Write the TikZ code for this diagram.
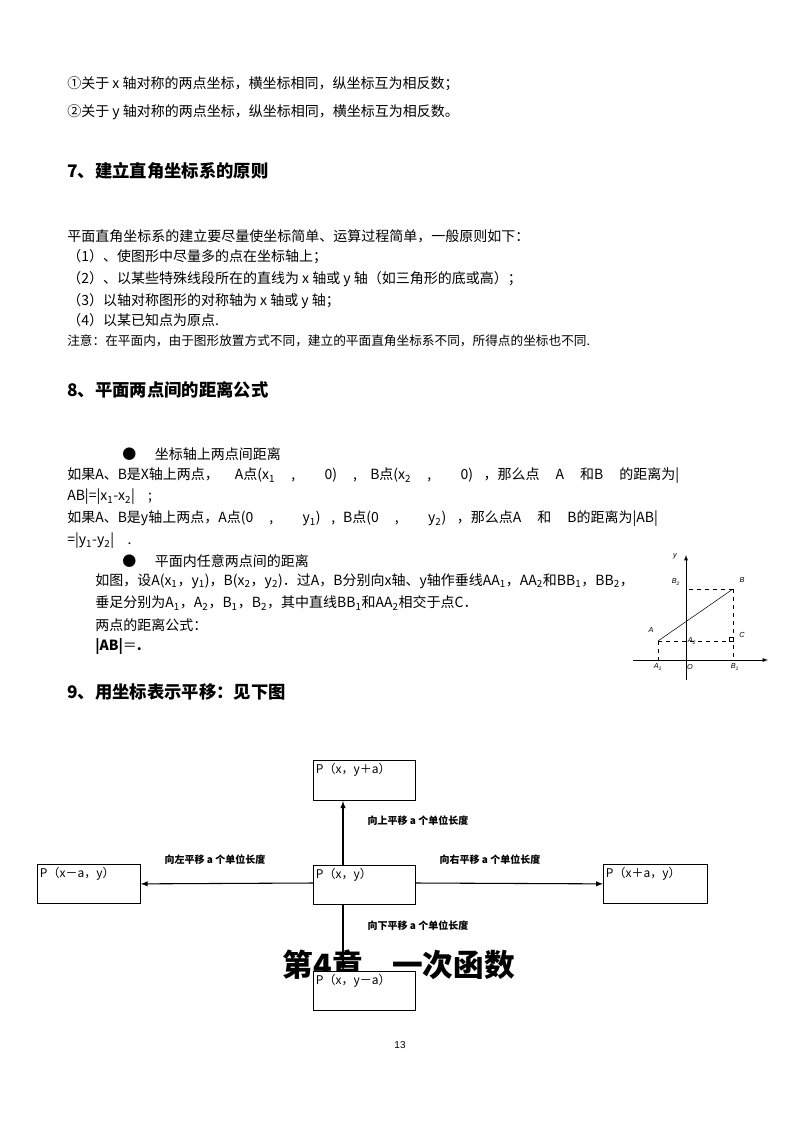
\documentclass[tikz,border=0pt]{standalone}
\usepackage{fontspec}
\setmainfont{Liberation Sans}
\newfontfamily\cjk{Noto Sans CJK SC}
\begin{document}
\begin{tikzpicture}[x=0.75pt,y=-0.75pt,
  txt/.style={anchor=west,inner sep=0,font=\cjk\fontsize{10.5}{12}\selectfont},
  hd/.style={anchor=west,inner sep=0,font=\cjk\bfseries\fontsize{13}{15}\selectfont},
  bx/.style={draw,thick},
  lab/.style={inner sep=0,font=\cjk\bfseries\fontsize{7.5}{9}\selectfont},
  bt/.style={anchor=north west,inner sep=2pt,font=\cjk\fontsize{9}{10}\selectfont},
  fl/.style={inner sep=0,font=\itshape\fontsize{5.5}{6}\selectfont},
  arr/.style={-latex,thick}]
\useasboundingbox (0,0) rectangle (800,1132);
\node[txt] (l1) at (67,84) {①关于 x 轴对称的两点坐标，横坐标相同，纵坐标互为相反数；};
\node[txt] (l2) at (67,112) {②关于 y 轴对称的两点坐标，纵坐标相同，横坐标互为相反数。};
\node[hd] (h7) at (67,171) {7、建立直角坐标系的原则};
\node[txt] (l3) at (67,236) {平面直角坐标系的建立要尽量使坐标简单、运算过程简单，一般原则如下：};
\node[txt] (l4) at (67,257) {（1）、使图形中尽量多的点在坐标轴上；};
\node[txt] (l5) at (67,279) {（2）、以某些特殊线段所在的直线为 x 轴或 y 轴（如三角形的底或高）；};
\node[txt] (l6) at (67,301) {（3）以轴对称图形的对称轴为 x 轴或 y 轴；};
\node[txt] (l7) at (67,320) {（4）以某已知点为原点.};
\node[txt,font=\cjk\fontsize{9.5}{11}\selectfont] (l8) at (67,341) {注意：在平面内，由于图形放置方式不同，建立的平面直角坐标系不同，所得点的坐标也不同.};
\node[hd] (h8) at (67,390) {8、平面两点间的距离公式};
\node[txt] (b1) at (122,454) {●\hspace{14pt}坐标轴上两点间距离};
\node[txt] (l9) at (67,476) {如果A、B是X轴上两点，\hspace{12pt}A点(x\textsubscript{1}\hspace{12pt},\hspace{22pt}0)\hspace{12pt},\hspace{10pt}B点(x\textsubscript{2}\hspace{12pt},\hspace{22pt}0)\hspace{8pt}，那么点\hspace{12pt}A\hspace{12pt}和B\hspace{12pt}的距离为|};
\node[txt] (l10) at (67,497) {AB|=|x\textsubscript{1}-x\textsubscript{2}|\hspace{10pt};};
\node[txt] (l11) at (67,519) {如果A、B是y轴上两点，A点(0\hspace{12pt},\hspace{22pt}y\textsubscript{1})\hspace{8pt},\hspace{6pt}B点(0\hspace{12pt},\hspace{22pt}y\textsubscript{2})\hspace{8pt}，那么点A\hspace{12pt}和\hspace{12pt}B的距离为|AB|};
\node[txt] (l12) at (67,541) {=|y\textsubscript{1}-y\textsubscript{2}|\hspace{10pt}.};
\node[txt] (b2) at (122,561) {●\hspace{14pt}平面内任意两点间的距离};
\node[txt] (l13) at (95,581) {如图，设\textit{A}(\textit{x}\textsubscript{1}，\textit{y}\textsubscript{1})，\textit{B}(\textit{x}\textsubscript{2}，\textit{y}\textsubscript{2})．过\textit{A}，\textit{B}分别向\textit{x}轴、\textit{y}轴作垂线\textit{AA}\textsubscript{1}，\textit{AA}\textsubscript{2}和\textit{BB}\textsubscript{1}，\textit{BB}\textsubscript{2}，};
\node[txt] (l14) at (95,603) {垂足分别为\textit{A}\textsubscript{1}，\textit{A}\textsubscript{2}，\textit{B}\textsubscript{1}，\textit{B}\textsubscript{2}，其中直线\textit{BB}\textsubscript{1}和\textit{AA}\textsubscript{2}相交于点\textit{C}．};
\node[txt] (l15) at (95,625) {两点的距离公式：};
\node[txt] (l16) at (95,646) {\textbf{|\textit{AB}|}＝\textbf{.}};
\node[hd] (h9) at (67,692) {9、用坐标表示平移：见下图};
% small figure
\coordinate (xs) at (633,660); \coordinate (xe) at (768,660);
\coordinate (ys) at (686,680); \coordinate (ye) at (686,555);
\draw[-latex] (xs) -- (xe);
\draw[-latex] (ys) -- (ye);
\coordinate (A) at (658,641); \coordinate (B) at (733,589);
\coordinate (A1) at (658,660); \coordinate (B1) at (733,660);
\coordinate (B2) at (686,589); \coordinate (C) at (733,641);
\draw (A) -- (B);
\draw[dashed] (A) -- (A1) (A) -- (C) (B) -- (B1) (B) -- (B2);
\draw (729,637) rectangle (733,641);
\node[fl] at (675,556) {y};
\node[fl] at (676,582) {B\textsubscript{2}};
\node[fl] at (742,580) {B};
\node[fl] at (651,630) {A};
\node[fl] at (692,641) {A\textsubscript{2}};
\node[fl] at (742,635) {C};
\node[fl] at (658,667) {A\textsubscript{1}};
\node[fl] at (690,667) {O};
\node[fl] at (735,667) {B\textsubscript{1}};
% translation diagram
\node[inner sep=0,font=\cjk\bfseries\fontsize{23}{26}\selectfont] (ch) at (399,965) {第\textbf{4}章\hspace{22pt}一次函数};
\node[bx,minimum width=76.5pt,minimum height=30pt,anchor=north west] (up) at (313,760) {};
\node[bx,minimum width=76.5pt,minimum height=29pt,anchor=north west] (c) at (313,865) {};
\node[bx,minimum width=77pt,minimum height=29pt,anchor=north west] (lf) at (37,864) {};
\node[bx,minimum width=78pt,minimum height=29pt,anchor=north west] (rt) at (603,864) {};
\node[bx,fill=white,minimum width=76.5pt,minimum height=29pt,anchor=north west] (dn) at (313,971) {};
\node[bt] at (up.north west) {P（x，y＋a）};
\node[bt] at (c.north west) {P（x，y）};
\node[bt] at (lf.north west) {P（x－a，y）};
\node[bt] at (rt.north west) {P（x＋a，y）};
\node[bt] at (dn.north west) {P（x，y－a）};
\draw[arr] ([xshift=22.5pt]c.north west) -- ([xshift=22.5pt]up.south west);
\draw[arr] ([yshift=-13.5pt]c.north west) -- (lf.east);
\draw[arr] ([yshift=-13.5pt]c.north east) -- (rt.west);
\draw[arr] ([xshift=22.5pt]c.south west) -- ([xshift=22.5pt]dn.north west);
\node[lab] at (418,821) {向上平移 a 个单位长度};
\node[lab] at (215,860) {向左平移 a 个单位长度};
\node[lab] at (490,860) {向右平移 a 个单位长度};
\node[lab] at (418,926) {向下平移 a 个单位长度};
\node[inner sep=0,font=\fontsize{7.5}{9}\selectfont] (pg) at (400,1045) {13};
\end{tikzpicture}
\end{document}
